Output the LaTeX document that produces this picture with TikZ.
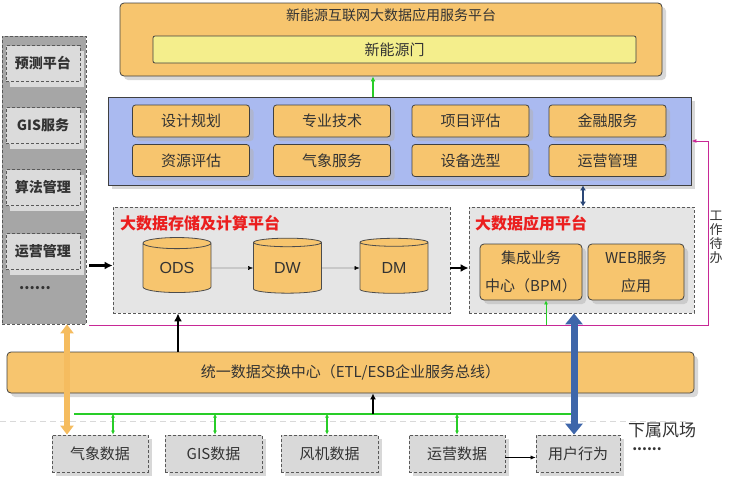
\documentclass[tikz,border=0pt]{standalone}
\usepackage{fontspec}
\setmainfont{Noto Sans CJK SC}
\newfontfamily\latinsans{Liberation Sans}
\usetikzlibrary{arrows.meta, positioning, shadows, shapes.geometric}
\definecolor{boxorange}{RGB}{247,197,110}
\definecolor{linkorange}{RGB}{245,188,95}
\definecolor{baryellow}{RGB}{244,238,140}
\definecolor{panelblue}{RGB}{170,186,240}
\definecolor{linkgreen}{RGB}{40,205,40}
\definecolor{todomag}{RGB}{200,40,150}
\definecolor{userblue}{RGB}{62,102,170}
\definecolor{titlered}{RGB}{235,30,30}

\begin{document}
\begin{tikzpicture}[
    x=1pt, y=-1pt,
    >={Latex[width=2.2mm]},
    every node/.style={font=\fontsize{15}{18}\selectfont, text=black!80, inner sep=0pt},
    shade/.style={drop shadow={shadow xshift=4pt, shadow yshift=-4pt, fill=black!30}},
    orangebox/.style={shade, draw=black!75, fill=boxorange, rounded corners=4pt, line width=0.8pt},
    svcbox/.style={orangebox, rounded corners=3pt, minimum width=117, minimum height=32},
    appbox/.style={orangebox, minimum height=56, align=center, font=\fontsize{15}{28}\selectfont},
    dashbox/.style={draw=black!65, dashed, dash pattern=on 3pt off 2pt, line width=0.8pt},
    dashpanel/.style={dashbox, fill=black!10},
    toolbox/.style={dashbox, fill=black!14, minimum width=74, minimum height=36,
        drop shadow={shadow xshift=4pt, shadow yshift=-5pt, fill=black!14, opacity=1},
        font=\bfseries\fontsize{14}{16}\selectfont},
    srcbox/.style={dashbox, shade, fill=black!15, minimum height=37},
    redtitle/.style={anchor=west, text=titlered, font=\bfseries\fontsize{16}{18}\selectfont},
    db/.style={cylinder, shape border rotate=90, aspect=0.32, draw=black!70, fill=boxorange,
        line width=0.8pt, minimum width=68, minimum height=55, font=\latinsans\fontsize{16}{18}\selectfont},
    bigarrow/.style={line width=2.6pt, black, >={Latex[length=8pt,width=8pt]}},
    sync/.style={<->, >={Latex[length=4pt,width=4pt]}, linkgreen, line width=1.2pt},
]
\useasboundingbox (0,0) rectangle (732,482);
% top portal
\node[orangebox, minimum width=542, minimum height=73] (portal) at (391,39.5) {};
\node[font=\fontsize{14}{16}\selectfont] (portaltitle) at (391,15) {新能源互联网大数据应用服务平台};
\node[draw=black!75, fill=baryellow, rounded corners=2pt, line width=0.8pt, minimum width=483, minimum height=27] (door) at (394.5,49.5) {新能源门};
% services panel
\node[shade, draw=black!75, fill=panelblue, line width=0.8pt, minimum width=583, minimum height=88] (svc) at (399.5,141) {};
\foreach \cx/\a/\b [count=\i] in {191/设计规划/资源评估, 332/专业技术/气象服务, 470.5/项目评估/设备选型, 607.5/金融服务/运营管理} {
    \node[svcbox] (s\i a) at (\cx,121) {\a};
    \node[svcbox] (s\i b) at (\cx,160.5) {\b};
}
\coordinate (upx) at (373,0);
\draw[->, linkgreen, line width=1.4pt, >={Latex[length=5pt,width=5pt]}] (svc.north -| upx) -- (portal.south -| upx);
% tool column on the left
\node[dashbox, fill=black!35, minimum width=84, minimum height=288] (tools) at (44,180) {};
\foreach \cy/\t [count=\i] in {63.5/预测平台, 125.5/GIS服务, 187.5/算法管理, 251.5/运营管理}
    \node[toolbox] (t\i) at (43,\cy) {\t};
\node[font=\bfseries\fontsize{15}{18}\selectfont] (tdots) at (35,288) {......};
% storage and computing platform
\node[dashpanel, minimum width=337, minimum height=106] (store) at (281.5,260) {};
\node[redtitle] (storetitle) at (120,223) {大数据存储及计算平台};
\foreach \cx/\n in {177/ODS, 287.5/DW, 394/DM}
    \node[db] (\n) at (\cx,268) {\n};
\draw[->, >={Latex[length=5pt,width=4pt]}] (ODS) -- (DW);
\draw[->, >={Latex[length=5pt,width=4pt]}] (DW) -- (DM);
% application platform
\node[dashpanel, minimum width=225, minimum height=106] (apps) at (581.5,260) {};
\node[redtitle] (appstitle) at (475,223) {大数据应用平台};
\node[appbox, minimum width=102] (bpm) at (531,272) {集成业务\\中心（BPM）};
\node[appbox, minimum width=96] (web) at (636,272) {WEB服务\\应用};
\draw[->, bigarrow] (tools.east |- t4) ++(3,14) coordinate (tl) -- (store.west |- tl);
\draw[->, bigarrow] (store.east |- DM) -- (apps.west |- DM);
\coordinate (lnx) at (583,0);
\draw[<->, userblue!70!black, line width=1.6pt, >={Latex[length=5pt,width=6pt]}] (svc.south -| lnx) -- (apps.north -| lnx);
% work to-do line
\coordinate (mstart) at (89,325);
\coordinate (mturn) at (708,325);
\draw[->, todomag, line width=0.9pt, >={Latex[length=5pt,width=4pt]}] (mstart) -- (mturn) |- (svc.east);
\node[align=center, font=\fontsize{13}{14}\selectfont] (todo) at (716,237) {工\\作\\待\\办};
\coordinate (bpmx) at (546,325);
\draw[->, linkgreen, line width=0.9pt, >={Latex[length=4pt,width=4pt]}] (bpmx) -- (bpm.south -| bpmx);
% exchange bus
\node[orangebox, minimum width=687, minimum height=41] (bus) at (350.5,372.5) {统一数据交换中心（ETL/ESB企业服务总线）};
\coordinate (busx) at (178,0);
\draw[->, bigarrow] (bus.north -| busx) -- (store.south -| busx);
% data sources
\draw[black!15, dashed, dash pattern=on 6pt off 4pt, line width=1pt] (0,421) -- (690,421);
\foreach \cx/\w/\n/\t in {100/96/qx/气象数据, 213.5/97/gis/GIS数据, 329.5/97/fj/风机数据, 457/96/yy/运营数据, 578/84/yh/用户行为}
    \node[srcbox, minimum width=\w] (\n) at (\cx,453.5) {\t};
\coordinate (gl) at (74,414);
\coordinate (gr) at (574,414);
\draw[linkgreen, line width=1.4pt] (gl) -- (gr);
\foreach \n/\dx in {qx/13, gis/1.5, fj/-2.5, yy/0}
    \draw[sync] ([xshift=\dx]\n.north) -- ++(0,-21);
\coordinate (bx) at (373,0);
\draw[->, bigarrow, >={Latex[length=6pt,width=6pt]}] (bx |- gl) -- (bus.south -| bx);
\draw[->, >={Latex[length=5pt,width=4pt]}] ([yshift=-4]yy.east) -- ([yshift=-4]yh.west);
\node[font=\fontsize{17}{19}\selectfont] (farms) at (662,430) {下属风场};
\node[font=\bfseries\fontsize{14}{16}\selectfont] (fdots) at (647,449) {......};
% long links
\coordinate (ox) at (67,0);
\draw[{Triangle[length=9pt,width=13pt]}-{Triangle[length=9pt,width=13pt]}, linkorange, line width=6pt] (tools.south -| ox) -- (qx.north -| ox);
\coordinate (ux) at (574,0);
\draw[{Triangle[length=11pt,width=17pt]}-{Triangle[length=11pt,width=17pt]}, userblue, line width=7pt] (apps.south -| ux) -- (yh.north -| ux);
\end{tikzpicture}
\end{document}
